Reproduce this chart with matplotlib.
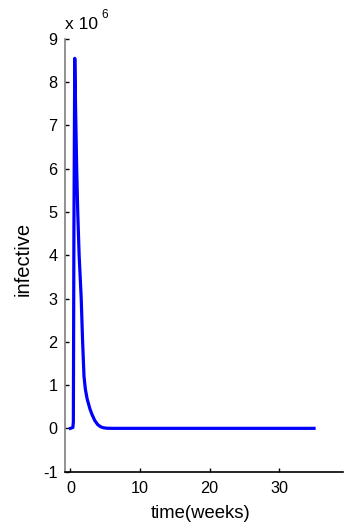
import matplotlib
matplotlib.use("Agg")
import matplotlib.pyplot as plt
from matplotlib.ticker import FuncFormatter

# weeks vs number infective
t = [0, 0.35, 0.42, 0.5, 0.62, 0.75, 0.9, 1.05, 1.25, 1.55, 1.75, 1.95, 2.15,
     2.4, 2.8, 3.1, 3.5, 3.9, 4.3, 4.7, 5.2, 6, 10, 20, 35]
infective = [0, 0.02e6, 0.15e6, 4.5e6, 8.55e6, 7.3e6, 6.0e6, 5.0e6, 4.0e6,
             3.0e6, 2.0e6, 1.2e6, 0.9e6, 0.68e6, 0.45e6, 0.32e6, 0.18e6,
             0.09e6, 0.04e6, 0.015e6, 0.003e6, 0, 0, 0, 0]
xticks = [0, 10, 20, 30]
yticks = [-1e6, 0, 1e6, 2e6, 3e6, 4e6, 5e6, 6e6, 7e6, 8e6, 9e6]

plt.rcParams['font.family'] = ['Liberation Sans', 'DejaVu Sans']

fig = plt.figure(figsize=(3.45, 5.22), dpi=100)
ax = fig.add_axes([0.187, 0.0965, 0.808, 0.829])

ax.plot(t, infective, color='#0000ff', lw=2.3, solid_joinstyle='round')

ax.set_xlim(-0.85, 39.2)
ax.set_ylim(-1e6, 9e6)
ax.set_xticks(xticks)
ax.set_yticks(yticks)
ax.yaxis.set_major_formatter(FuncFormatter(lambda v, p: '%d' % round(v / 1e6)))

ax.spines['top'].set_visible(False)
ax.spines['right'].set_visible(False)
ax.spines['left'].set_color('#7f7f7f')
ax.spines['left'].set_linewidth(1.2)
ax.spines['bottom'].set_color('black')
ax.spines['bottom'].set_linewidth(1.2)
ax.tick_params(direction='in', length=3, width=1, labelsize=11.7, colors='black')
ax.tick_params(axis='y', pad=5)
ax.tick_params(axis='x', pad=7)

# axis labels placed like the MATLAB export
fig.text(201 / 345, 1 - 513 / 522, 'time(weeks)', fontsize=13.3,
         ha='center', va='center')
fig.text(23 / 345, 1 - 259 / 522, 'infective', fontsize=14.5,
         ha='center', va='center', rotation=90)

# MATLAB style exponent label
fig.text(65 / 345, 1 - 29 / 522, 'x 10', fontsize=12.5, ha='left', va='baseline')
fig.text(101 / 345, 1 - 18 / 522, '6', fontsize=8.5, ha='left', va='baseline')

fig.savefig('out.png', dpi=100)
